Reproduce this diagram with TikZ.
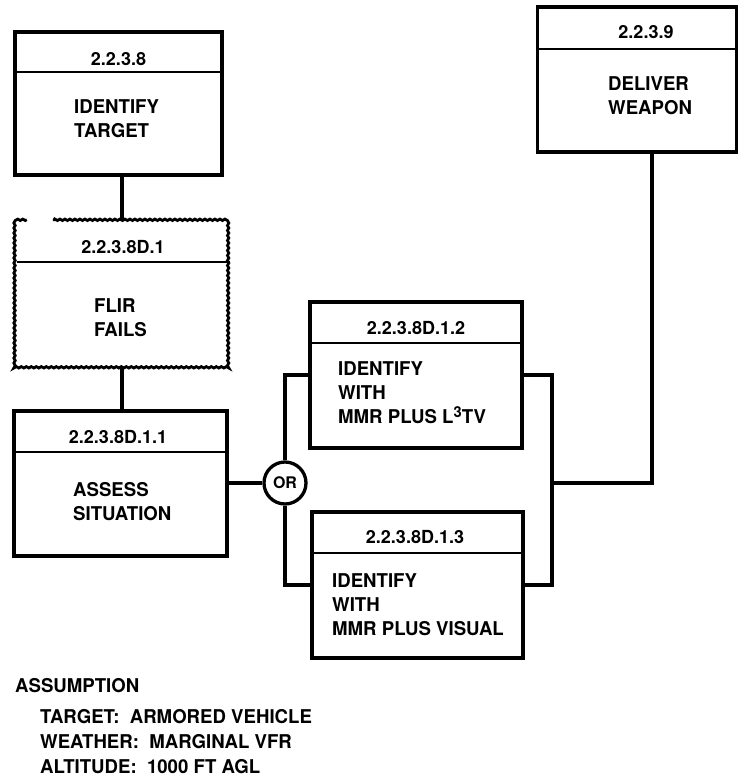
\documentclass[tikz,border=0pt]{standalone}
\usepackage{fontspec}
\setmainfont{TeX Gyre Heros}
\newfontfamily\bodyfont{TeX Gyre Heros}[FakeStretch=0.98]
\usetikzlibrary{decorations.pathmorphing}

\tikzset{
  box/.style={draw, line width=3.3pt, inner sep=0pt},
  hdline/.style={line width=2.8pt},
  link/.style={line width=3.3pt},
  hd/.style={font=\bfseries\fontsize{18}{18}\selectfont, anchor=base, inner sep=0pt},
  txt/.style={font=\bodyfont\bfseries\fontsize{19}{24}\selectfont, align=left, anchor=north west, inner sep=0pt},
  wavy/.style={line width=2.8pt, decorate, decoration={snake, amplitude=0.7pt, segment length=5pt}}
}

\begin{document}
\begin{tikzpicture}[x=1pt, y=-1pt]
  \useasboundingbox (0,0) rectangle (739,779);

  % identify target
  \node[box, minimum width=207, minimum height=143] (idt) at (118.5,103.5) {};
  \draw[hdline] (idt.west |- 0,72) -- (idt.east |- 0,72);
  \node[hd] (idt-no) at (118.5,65) {2.2.3.8};
  \node[txt] (idt-txt) at (74,99.3) {IDENTIFY\\TARGET};

  % flir fails (failure box)
  \node[minimum width=213, minimum height=148, inner sep=0pt] (flir) at (123.5,294) {};
  \draw[wavy] ([xshift=10pt]flir.north west) -- (flir.north west) -- (flir.south west)
    -- (flir.south east) -- (flir.north east) -- ([xshift=36pt]flir.north west);
  \draw[hdline] (flir.west |- 0,262) -- (flir.east |- 0,262);
  \node[hd] (flir-no) at (123,253) {2.2.3.8D.1};
  \node[txt] (flir-txt) at (94,298.3) {FLIR\\FAILS};

  % assess situation
  \node[box, minimum width=213, minimum height=145] (asm) at (120.5,483.5) {};
  \draw[hdline] (asm.west |- 0,452) -- (asm.east |- 0,452);
  \node[hd] (asm-no) at (118,443) {2.2.3.8D.1.1};
  \node[txt] (asm-txt) at (73,482.3) {ASSESS\\SITUATION};

  % or gate
  \node[draw, circle, line width=3.3pt, minimum size=42, inner sep=0pt,
    font=\bfseries\fontsize{16}{16}\selectfont] (or) at (285,483) {OR};

  % identify with l3tv
  \node[box, minimum width=212, minimum height=146] (idl3) at (416,375) {};
  \draw[hdline] (idl3.west |- 0,343) -- (idl3.east |- 0,343);
  \node[hd] (idl3-no) at (416,334) {2.2.3.8D.1.2};
  \node[txt] (idl3-txt) at (338,361.3)
    {IDENTIFY\\WITH\\MMR PLUS L\raisebox{6pt}{\fontsize{15}{15}\selectfont 3}TV};

  % identify visually
  \node[box, minimum width=211, minimum height=146] (idvis) at (417.5,585) {};
  \draw[hdline] (idvis.west |- 0,553) -- (idvis.east |- 0,553);
  \node[hd] (idvis-no) at (415,543) {2.2.3.8D.1.3};
  \node[txt] (idvis-txt) at (332,573.3) {IDENTIFY\\WITH\\MMR PLUS VISUAL};

  % deliver weapon
  \node[box, minimum width=199, minimum height=145] (dlv) at (637,79.5) {};
  \draw[hdline] (dlv.west |- 0,49) -- (dlv.east |- 0,49);
  \node[hd] (dlv-no) at (646,38) {2.2.3.9};
  \node[txt] (dlv-txt) at (608,76.3) {DELIVER\\WEAPON};

  % connectors
  \draw[link] (122,0 |- idt.south) -- (122,0 |- flir.north);
  \draw[link] (122,0 |- flir.south) -- (122,0 |- asm.north);
  \draw[link] (asm.east |- or.west) -- (or.west);
  \draw[link] (or.north) |- (idl3.west);
  \draw[link] (or.south) |- (idvis.west);
  \coordinate (join) at (552,483);
  \draw[link] (idl3.east) -| (join) |- (idvis.east);
  \draw[link] (join) -| ([xshift=15pt]dlv.south);

  % assumptions
  \node[txt, anchor=base west] (asum) at (15,692) {ASSUMPTION};
  \node[txt, font=\bodyfont\bfseries\fontsize{19}{25}\selectfont] (cond) at (40,709.3)
    {TARGET:\ \ ARMORED VEHICLE\\WEATHER:\ \ MARGINAL VFR\\ALTITUDE:\ \ 1000 FT AGL};
\end{tikzpicture}
\end{document}
